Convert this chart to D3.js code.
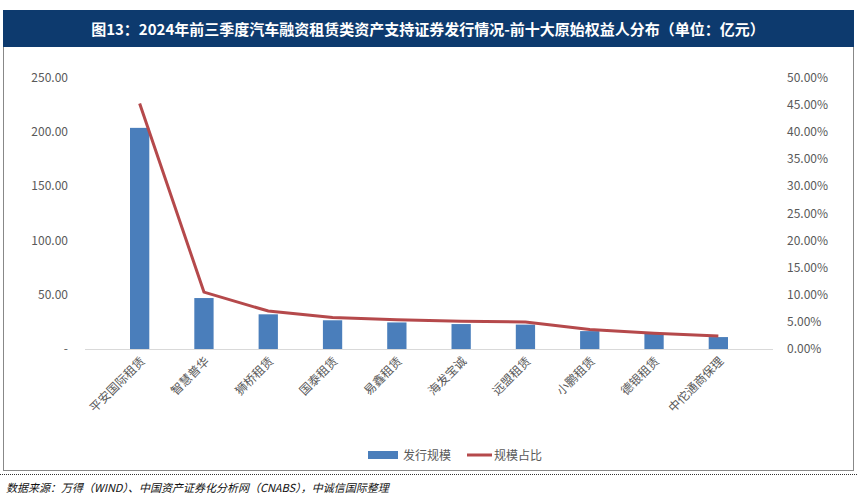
<!DOCTYPE html><html><head><meta charset="utf-8">
<script src="https://cdn.jsdelivr.net/npm/d3@7"></script>
<style>body{margin:0;background:#fff}svg{display:block}</style></head><body>
<svg id="c" width="857" height="501"></svg>
<script>
const categories=["平安国际租赁","智慧普华","狮桥租赁","国泰租赁","易鑫租赁","海发宝诚","远盟租赁","小鹏租赁","德银租赁","中佗通商保理"];
const issueSize=[204,47,32,26.5,24.5,23,22.5,16.5,14,11];
const sharePct=[45.3,10.5,7.0,5.8,5.4,5.1,5.0,3.6,2.9,2.4];
const leftTicks=[0,50,100,150,200,250];
const rightTicks=[0,5,10,15,20,25,30,35,40,45,50];
const title="图13：2024年前三季度汽车融资租赁类资产支持证券发行情况-前十大原始权益人分布（单位：亿元）";
const source="数据来源：万得（WIND）、中国资产证券化分析网（CNABS），中诚信国际整理";
const F='"Noto Sans CJK SC","Liberation Serif",serif';
const svg=d3.select("#c");
svg.append("rect").attr("x",3.5).attr("y",10.5).attr("width",850).attr("height",460).attr("fill","#fff").attr("stroke","#888");
svg.append("rect").attr("x",3).attr("y",10).attr("width",851).attr("height",37).attr("fill","#0d3a6e");
svg.append("text").attr("x",428).attr("y",35).attr("text-anchor","middle").attr("fill","#fff").attr("font-family",F).attr("font-weight","bold").attr("font-size",15).text(title);
const x=d3.scaleBand().domain(categories).range([85,773]).padding(0.7);
const yL=d3.scaleLinear().domain([0,250]).range([349,78]);
const yR=d3.scaleLinear().domain([0,50]).range([349,78]);
const g=svg.append("g").attr("font-family",F);
g.append("line").attr("x1",85).attr("x2",773).attr("y1",349.5).attr("y2",349.5).attr("stroke","#d9d9d9");
g.selectAll(".b").data(issueSize).join("rect").attr("x",(d,i)=>x(categories[i])).attr("width",x.bandwidth()).attr("y",d=>yL(d)).attr("height",d=>yL(0)-yL(d)).attr("fill","#4a7ebb");
const line=d3.line().x((d,i)=>x(categories[i])+x.bandwidth()/2).y(d=>yR(d));
g.append("path").datum(sharePct).attr("d",line).attr("fill","none").attr("stroke","#b5494b").attr("stroke-width",3);
g.selectAll(".lt").data(leftTicks).join("text").attr("x",68).attr("y",d=>yL(d)+4).attr("text-anchor","end").attr("font-size",12).attr("fill","#595959").text(d=>d===0?"-":d.toFixed(2));
g.selectAll(".rt").data(rightTicks).join("text").attr("x",787).attr("y",d=>yR(d)+4).attr("font-size",12).attr("fill","#595959").text(d=>d.toFixed(2)+"%");
g.selectAll(".xl").data(categories).join("text").attr("transform",d=>`translate(${x(d)+x.bandwidth()/2+6},${362}) rotate(-45)`).attr("text-anchor","end").attr("font-size",12).attr("fill","#595959").text(d=>d);
g.append("rect").attr("x",368).attr("y",451).attr("width",30).attr("height",8).attr("fill","#4a7ebb");
g.append("text").attr("x",403).attr("y",460).attr("font-size",12).attr("fill","#595959").text("发行规模");
g.append("line").attr("x1",467).attr("x2",492).attr("y1",455).attr("y2",455).attr("stroke","#b5494b").attr("stroke-width",3);
g.append("text").attr("x",494).attr("y",460).attr("font-size",12).attr("fill","#595959").text("规模占比");
svg.append("line").attr("x1",0).attr("x2",857).attr("y1",474.5).attr("y2",474.5).attr("stroke","#333").attr("stroke-dasharray","1,1");
svg.append("text").attr("x",6).attr("y",492).attr("font-family",F).attr("font-style","italic").attr("font-size",11).attr("fill","#111").text(source);
</script></body></html>
